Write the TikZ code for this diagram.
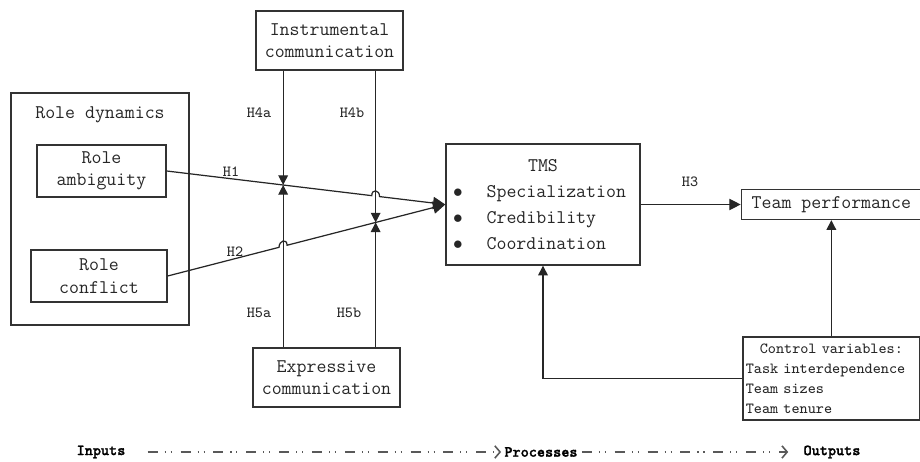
\documentclass[tikz,border=0pt]{standalone}
\usepackage{fontspec}
\usetikzlibrary{arrows.meta,positioning,calc}

\newfontfamily\flowfont{lmmonolt10-bold}[Extension=.otf, FakeBold=1.5]
\newcommand{\boxfont}{\ttfamily\fontsize{11}{12.7}\selectfont}
\newcommand{\tmsfont}{\ttfamily\fontsize{11}{14.7}\selectfont}
\newcommand{\smallfont}{\ttfamily\fontsize{8.8}{11.4}\selectfont}

\begin{document}
\begin{tikzpicture}[
  x=0.02cm, y=-0.02cm,
  box/.style={rectangle, draw=black!80, line width=0.8pt, align=center,
              font=\boxfont, text=black!85, inner sep=2pt},
  arr/.style={-{Triangle[length=5.5pt,width=5.5pt]}, line width=0.7pt, draw=black!85},
  bigarr/.style={arr, -{Triangle[length=7pt,width=7pt]}},
  hyp/.style={font=\smallfont, text=black!85, inner sep=1pt},
  flow/.style={font=\flowfont\fontsize{8.8}{11}\selectfont, inner sep=0pt},
  flowline/.style={-{Straight Barb[length=3pt,width=7pt]}, line width=0.9pt,
                   draw=black!65,
                   dash pattern=on 5.7pt off 4pt on 0.6pt off 2.8pt on 0.6pt off 5pt}
]
\useasboundingbox (0,0) rectangle (920,462);

% role dynamics
\node[box, minimum width=3.56cm, minimum height=4.64cm] (rdyn) at (100,209) {};
\node[font=\boxfont, text=black!85, inner sep=0pt]    (rdynt) at (100,115) {Role dynamics};
\node[box, minimum width=2.58cm, minimum height=1.04cm] (ramb) at (101.5,171) {Role\\ambiguity};
\node[box, minimum width=2.72cm, minimum height=1.04cm] (rcon) at (99,276) {Role\\conflict};

% moderators
\node[box, minimum width=2.94cm, minimum height=1.18cm] (inst) at (329.5,40.5)
      {Instrumental\\communication};
\node[box, minimum width=2.94cm, minimum height=1.18cm] (expr) at (326.5,377.5)
      {Expressive\\communication};

% processes and outputs
\node[box, minimum width=3.88cm, minimum height=2.42cm, align=left,
      text width=3.6cm, font=\tmsfont]                 (tms) at (543,204.5)
      {\makebox[\linewidth][c]{TMS}\\
       $\bullet$\hspace{0.48cm}Specialization\\
       $\bullet$\hspace{0.48cm}Credibility\\
       $\bullet$\hspace{0.48cm}Coordination};
\node[box, minimum width=3.6cm, minimum height=0.6cm,
      right=2cm of tms]                                 (perf) {Team performance};
\node[box, font=\smallfont, align=left, text width=3.42cm, inner xsep=0.06cm,
      minimum height=1.66cm, below=2.32cm of perf]      (ctrl)
      {\makebox[\linewidth][c]{Control variables:}\\
       Task interdependence\\ Team sizes\\ Team tenure};

% meeting points of the moderating arrows
\coordinate (ha) at ($(ramb.east)!0.418!(tms.west)$);
\coordinate (hb) at ($(rcon.east)!0.749!(tms.west)$);

\draw[bigarr] (ramb.east) -- ($(ramb.east)!0.736!(tms.west)$)
      .. controls +(0,-7) and +(0,-7) .. ($(ramb.east)!0.764!(tms.west)$) -- (tms.west);
\draw[bigarr] (rcon.east) -- ($(rcon.east)!0.401!(tms.west)$)
      .. controls +(0,-7) and +(0,-7) .. ($(rcon.east)!0.430!(tms.west)$) -- (tms.west);

\draw[arr] (ha |- inst.south) -- (ha);
\draw[arr] (ha |- expr.north) -- (ha);
\draw[arr] (hb |- inst.south) -- (hb);
\draw[arr] (hb |- expr.north) -- (hb);

\draw[arr, -{Triangle[length=6.5pt,width=6.5pt]}] (tms.east) -- (perf.west);
\draw[arr] (ctrl.north) -- (perf.south);
\draw[arr] (ctrl.west) -| (tms.south);

% hypothesis labels
\node[hyp] (lh1)  at (231,172) {H1};
\node[hyp] (lh2)  at (235,252) {H2};
\node[hyp] (lh3)  at (690,182) {H3};
\node[hyp] (lh4a) at (259,113) {H4a};
\node[hyp] (lh4b) at (352,113) {H4b};
\node[hyp] (lh5a) at (259,313) {H5a};
\node[hyp] (lh5b) at (349,313) {H5b};

% stages
\node[flow] (inp)  at (101,452) {Inputs};
\node[flow] (proc) at (541,452) {Processes};
\node[flow] (outp) at (832,452) {Outputs};
\draw[flowline] ([xshift=0.44cm]inp.east) -- ([xshift=-0.06cm]proc.west);
\draw[flowline] ([xshift=0.08cm]proc.east) -- ([xshift=-0.3cm]outp.west);

\end{tikzpicture}
\end{document}
